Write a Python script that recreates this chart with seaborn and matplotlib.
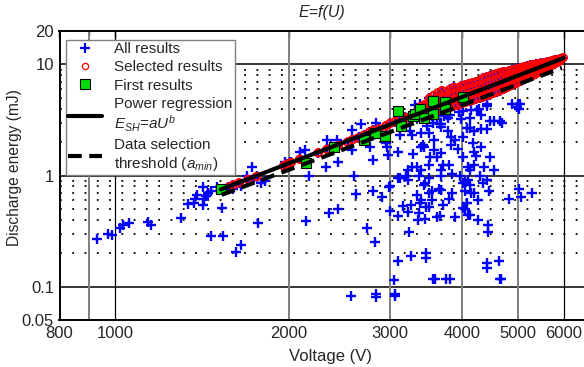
import matplotlib
matplotlib.use("Agg")
import matplotlib.pyplot as plt
from matplotlib.lines import Line2D
from matplotlib.ticker import FixedLocator, FixedFormatter, NullFormatter
import seaborn as sns

# ---------------------------------------------------------------------------
# data (voltage in V, energy in mJ)
# ---------------------------------------------------------------------------
# results that were not selected (blue crosses only)
other_pts = [
    (928, 0.27), (970, 0.296), (985, 0.29), (1020, 0.335), (1030, 0.36), (1055, 0.37),
    (1140, 0.385), (1155, 0.36), (1300, 0.415), (1335, 0.55), (1370, 0.56), (1376, 0.62),
    (1385, 0.67), (1418, 0.79), (1418, 0.545), (1428, 0.62), (1438, 0.65), (1447, 0.69),
    (1467, 0.72), (1530, 0.515), (1467, 0.286), (1540, 0.286), (1650, 0.236), (1620, 0.206),
    (1770, 0.37), (1727, 1.2), (1693, 1.0), (1740, 0.95), (1790, 0.86), (1820, 0.9),
    (1650, 0.8), (1600, 0.76), (1500, 0.78),
    (1970, 1.33), (2010, 1.33), (2090, 1.63), (2135, 1.69), (2165, 1.0), (2330, 2.07),
    (2430, 2.07), (2320, 1.2), (2440, 1.33), (2580, 2.55), (2580, 1.69), (2670, 2.9),
    (2600, 0.98), (2800, 1.37), (2770, 1.81), (2830, 2.95), (2960, 1.81), (2980, 1.52),
    (2950, 1.95), (2650, 2.2), (2830, 2.57),
    (2143, 0.39), (2345, 0.456), (2435, 0.5), (2620, 0.675), (2800, 0.72), (2900, 0.64),
    (2740, 0.34), (2825, 0.252), (2565, 0.0824), (2840, 0.085), (2830, 0.08), (3060, 0.082),
    (3060, 0.086), (2990, 0.79),
    (3000, 0.81), (2995, 0.48), (3090, 0.95), (3100, 0.43), (3235, 0.31), (3090, 0.17),
    (3050, 0.114), (3260, 0.188), (3460, 0.2), (3460, 0.18), (3560, 0.118), (3750, 0.118),
    (3160, 0.53), (3220, 0.47), (3260, 0.546), (3380, 0.56), (3370, 0.456), (3355, 0.40),
    (3445, 0.41), (3465, 0.52), (3620, 0.42), (3700, 0.546), (3890, 0.42), (3190, 1.0),
    (3370, 0.99), (3440, 0.82), (3500, 0.7), (3550, 0.6), (3650, 0.76), (3680, 0.98),
    (3800, 0.61), (3840, 0.7), (3840, 1.03), (4020, 0.51), (4075, 0.56), (4090, 0.44),
    (4020, 0.85), (4045, 0.72), (4150, 0.69), (4270, 0.6), (4460, 0.72), (4270, 0.40),
    (4430, 0.36), (4430, 0.31), (4410, 0.164), (4410, 0.147), (4640, 0.17), (4660, 0.118),
    (4300, 0.98), (4100, 0.92), (4830, 0.61), (5030, 0.76), (5070, 0.64), (5290, 0.7),
    (4020, 1.475), (4220, 1.5), (4470, 1.475), (4190, 1.25), (4120, 1.12), (4550, 1.12),
    (3800, 1.25), (4420, 0.92), (4050, 0.88), (4120, 0.82), (4340, 0.85), (4200, 0.69),
    (4050, 0.5), (4120, 0.44), (3660, 0.43), (3500, 0.52), (3400, 0.6), (3540, 0.72),
    (3680, 0.74), (3450, 0.85), (3500, 0.95), (3680, 1.12), (3500, 1.25), (3620, 1.47),
    (3710, 1.25), (3400, 1.12), (3590, 0.118), (3810, 0.118), (4670, 0.118),
    (3100, 1.63), (3120, 0.95), (3220, 1.12), (3270, 1.2), (3290, 1.55), (3280, 2.3),
    (3400, 2.4), (3430, 1.81), (3310, 4.3), (3340, 1.2), (3220, 0.92), (3340, 0.67),
    (3120, 2.3), (3250, 2.5), (3340, 3.3), (3380, 4.4), (3500, 2.4), (3680, 2.75),
    (3780, 3.3), (3890, 2.1), (3570, 1.69), (3400, 1.81), (3520, 1.47), (3680, 1.58),
    (4200, 1.63), (4320, 1.79), (4090, 1.2), (4370, 1.2), (4470, 3.1), (4690, 3.0),
    (4880, 4.4), (5040, 4.4), (3970, 0.98), (4990, 4.1), (4320, 2.6), (4200, 2.5),
    (4120, 2.7), (4020, 2.2), (3830, 2.2), (3830, 1.9), (3930, 1.72), (4180, 1.98),
    (3570, 2.1), (3780, 2.5), (3420, 1.9), (3660, 2.9), (3990, 3.2), (3950, 3.7),
    (4240, 3.9), (4320, 3.5), (4420, 4.4), (3720, 3.4),
    (3560, 3.0), (3620, 3.2), (3760, 3.5), (3811, 3.52), (4120, 3.3), (4280, 4.0),
    (4420, 4.2), (3670, 2.9), (4080, 2.7), (4550, 3.1), (4660, 3.1), (5000, 4.4),
    (5030, 4.0), (4420, 2.6), (3480, 2.8), (3540, 3.4), (4010, 3.8), (4140, 3.9),
]

# results above the selection threshold (red circles, also drawn as crosses)
selected_pts = [
    (1530, 0.76), (1570, 0.78), (1600, 0.82), (1640, 0.86), (1700, 0.92), (1760, 0.98),
    (1960, 1.22), (1990, 1.27), (2020, 1.31), (2090, 1.4), (2250, 1.6), (2330, 1.72),
    (2380, 1.8), (2440, 1.86), (2530, 2.0), (2580, 2.1), (2640, 2.18), (2700, 2.3),
    (2760, 2.45), (2800, 2.55), (2870, 2.62), (2950, 2.8), (3000, 2.95), (3060, 3.05),
    (3120, 3.2), (3180, 3.35), (3230, 3.3), (3280, 3.55), (3330, 3.7), (3380, 3.85),
    (3400, 4.2), (3420, 3.6),
    (3450, 3.55), (3450, 3.95), (3450, 4.35),
    (3510, 3.6), (3510, 4.1), (3510, 4.6), (3510, 4.95),
    (3570, 3.75), (3570, 4.2), (3570, 4.65), (3570, 5.25),
    (3630, 3.85), (3630, 4.35), (3630, 4.9), (3630, 5.55),
    (3690, 3.9), (3690, 4.45), (3690, 5.05), (3690, 5.8),
    (3750, 4.05), (3750, 4.6), (3750, 5.15), (3750, 5.7),
    (3810, 4.1), (3810, 4.7), (3810, 5.3), (3810, 5.95),
    (3870, 4.25), (3870, 4.8), (3870, 5.45), (3870, 6.2),
    (3930, 4.3), (3930, 4.95), (3930, 5.6), (3930, 6.1),
    (3990, 4.45), (3990, 5.05), (3990, 5.75), (3990, 6.4),
    (4050, 4.55), (4050, 5.2), (4050, 5.9), (4050, 6.55),
    (4110, 4.65), (4110, 5.3), (4110, 6.05), (4110, 6.7),
    (4170, 4.75), (4170, 5.45), (4170, 6.2), (4170, 6.85),
    (4230, 4.9), (4230, 5.6), (4230, 6.35), (4230, 6.95),
    (4290, 5.0), (4290, 5.75), (4290, 6.5), (4290, 7.15),
    (4350, 5.1), (4350, 5.85), (4350, 6.6), (4350, 7.5),
    (4410, 5.25), (4410, 6.0), (4410, 6.85), (4410, 7.7),
    (4470, 5.35), (4470, 6.15), (4470, 7.0), (4470, 7.85),
    (4530, 5.5), (4530, 6.3), (4530, 7.15), (4530, 8.0),
    (4590, 5.65), (4590, 6.45), (4590, 7.3), (4590, 8.25),
    (4650, 5.8), (4650, 6.6), (4650, 7.5), (4650, 8.45),
    (4710, 5.95), (4710, 6.8), (4710, 7.7), (4710, 8.55),
    (4770, 6.15), (4770, 7.0), (4770, 7.85), (4770, 8.6),
    (4830, 6.35), (4830, 7.15), (4830, 8.0), (4830, 8.75),
    (4890, 6.55), (4890, 7.35), (4890, 8.2), (4890, 8.9),
    (4950, 6.75), (4950, 7.55), (4950, 8.35), (4950, 9.05),
    (5010, 6.95), (5010, 7.75), (5010, 8.55), (5010, 9.2),
    (5070, 7.15), (5070, 7.95), (5070, 8.75), (5070, 9.35),
    (5130, 7.4), (5130, 8.15), (5130, 8.95), (5130, 9.55),
    (5190, 7.6), (5190, 8.35), (5190, 9.15), (5190, 9.6),
    (5250, 7.8), (5250, 8.55), (5250, 9.3), (5250, 9.8),
    (5310, 8.0), (5310, 8.75), (5310, 9.45), (5310, 9.95),
    (5370, 8.25), (5370, 8.95), (5370, 9.6), (5370, 10.05),
    (5430, 8.5), (5430, 9.15), (5430, 9.8), (5430, 10.15),
    (5490, 8.75), (5490, 9.4), (5490, 10.0), (5490, 10.3),
    (5550, 9.0), (5550, 9.65), (5550, 10.2),
    (5610, 9.3), (5610, 9.85), (5610, 10.45),
    (5670, 9.55), (5670, 10.1), (5670, 10.6),
    (5730, 9.85), (5730, 10.35), (5730, 10.8),
    (5790, 10.15), (5790, 10.6), (5790, 11.0),
    (5850, 10.45), (5850, 10.9),
    (5910, 10.75), (5910, 11.2),
    (5990, 11.5),
]

# first results (green squares)
first_u = [1525, 2140, 2400, 2700, 2820, 2940, 3100, 3130, 3290, 3320, 3380, 3440,
           3560, 3560, 3730, 3730, 4020]
first_e = [0.75, 1.3, 1.81, 2.08, 2.4, 2.25, 3.8, 2.77, 3.4, 3.6, 4.0, 3.3,
           4.66, 3.55, 4.6, 3.95, 5.05]

# power regression E_SH = a U^b and selection threshold (end points)
reg_u = [1525, 6000]
reg_e = [0.75, 11.4]
thr_u = [1530, 5960]
thr_e = [0.67, 9.3]

x_ticks = [800, 1000, 2000, 3000, 4000, 5000, 6000]
x_ticklabels = ["800", "1000", "2000", "3000", "4000", "5000", "6000"]
y_ticks = [0.05, 0.1, 1, 10, 20]
y_ticklabels = ["0.05", "0.1", "1", "10", "20"]
y_minor = [0.2, 0.3, 0.4, 0.5, 0.6, 0.7, 0.8, 0.9, 2, 3, 4, 5, 6, 7, 8, 9]
y_solid = [0.1, 1, 10]
x_grid_gray = [900, 2000, 3000, 4000, 5000]
x_grid_black = [1000, 6000]

# ---------------------------------------------------------------------------
sns.set_theme(style="white")
plt.rcParams["font.family"] = ["Liberation Sans", "DejaVu Sans"]
plt.rcParams["mathtext.fontset"] = "custom"
plt.rcParams["mathtext.rm"] = "Liberation Sans"
plt.rcParams["mathtext.it"] = "Liberation Sans:italic"

W, H = 584, 367
fig = plt.figure(figsize=(W / 100, H / 100), dpi=100)
ax = fig.add_axes([59.5 / W, 47 / H, 542.6 / W, 289 / H])
ax.set_xscale("log")
ax.set_yscale("log")
ax.set_xlim(800, 7000)
ax.set_ylim(0.05, 20)

# grid, drawn by hand to copy the mixed styles
for v in y_minor:
    ax.axhline(v, color="black", lw=1.3, ls=(0, (1, 5.8)), zorder=0.5)
for v in y_solid:
    ax.axhline(v, color="black", lw=1.1, zorder=0.6)
for v in x_grid_gray:
    ax.axvline(v, color="#7f7f7f", lw=1.4, zorder=0.6)
for v in x_grid_black:
    ax.axvline(v, color="black", lw=0.9, zorder=0.6)

all_u = [p[0] for p in other_pts] + [p[0] for p in selected_pts]
all_e = [p[1] for p in other_pts] + [p[1] for p in selected_pts]
sel_u = [p[0] for p in selected_pts]
sel_e = [p[1] for p in selected_pts]

sns.scatterplot(x=all_u, y=all_e, marker="+", color="#0000ff", s=58,
                linewidth=1.7, ax=ax, zorder=2, legend=False)
sns.scatterplot(x=sel_u, y=sel_e, marker="o", color="none", edgecolor="#ff0000",
                s=28, linewidth=1.5, ax=ax, zorder=3, legend=False)
sns.scatterplot(x=first_u, y=first_e, marker="s", color="#00dd00", edgecolor="black",
                s=60, linewidth=0.8, ax=ax, zorder=4, legend=False)
sns.lineplot(x=reg_u, y=reg_e, color="black", lw=3, estimator=None, sort=False,
             ax=ax, zorder=5, legend=False)
sns.lineplot(x=thr_u, y=thr_e, color="black", lw=3, ls=(0, (3.3, 1.8)), estimator=None,
             sort=False, ax=ax, zorder=5, legend=False)

# ticks
ax.xaxis.set_major_locator(FixedLocator(x_ticks))
ax.xaxis.set_major_formatter(FixedFormatter(x_ticklabels))
ax.xaxis.set_minor_locator(FixedLocator([900]))
ax.xaxis.set_minor_formatter(NullFormatter())
ax.yaxis.set_major_locator(FixedLocator(y_ticks))
ax.yaxis.set_major_formatter(FixedFormatter(y_ticklabels))
ax.yaxis.set_minor_locator(FixedLocator(y_minor))
ax.yaxis.set_minor_formatter(NullFormatter())
ax.tick_params(which="both", direction="in", top=True, right=True, color="black",
               width=1.0, labelsize=12, pad=4)
ax.tick_params(which="major", length=5)
ax.tick_params(which="minor", length=3)
for s in ax.spines.values():
    s.set_color("black")
    s.set_linewidth(1.4)

ax.set_xlabel("Voltage (V)", fontsize=12, labelpad=6)
ax.set_ylabel("")
fig.text(15 / W, 1 - 168 / H, "Discharge energy (mJ)", rotation=90, fontsize=11.2,
         ha="center", va="center")
fig.text(322 / W, 1 - 12 / H, "E=f(U)", fontsize=11.5, style="italic",
         ha="center", va="center")

handles = [
    Line2D([], [], ls="none", marker="+", color="#0000ff", ms=7, mew=1.6),
    Line2D([], [], ls="none", marker="o", mfc="none", mec="#ff0000", ms=4.5, mew=0.9),
    Line2D([], [], ls="none", marker="s", mfc="#00dd00", mec="black", ms=7.5, mew=0.8),
    Line2D([], [], color="black", lw=3),
    Line2D([], [], color="black", lw=3, ls=(0, (3.3, 1.8))),
]
labels = [
    "All results",
    "Selected results",
    "First results",
    "Power regression\n$E_{SH}$=$aU^b$",
    "Data selection\nthreshold ($a_{min}$)",
]
leg = ax.legend(handles, labels, loc="upper left",
                bbox_to_anchor=(66 / W, 1 - 40 / H), bbox_transform=fig.transFigure,
                fontsize=11, frameon=True, fancybox=False, framealpha=1,
                edgecolor="#808080", borderpad=0.15, labelspacing=0.27,
                handlelength=2.2, handletextpad=0.8, borderaxespad=0)
leg.get_frame().set_linewidth(1.0)
leg.set_zorder(10)

fig.savefig("out.png", dpi=100)
